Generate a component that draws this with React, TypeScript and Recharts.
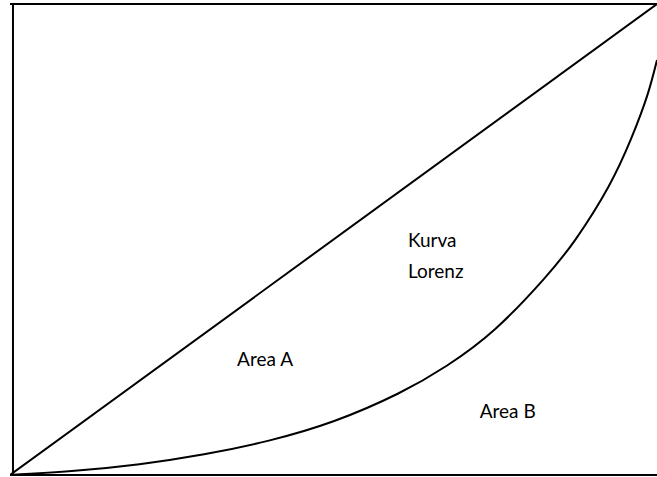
// @ts-nocheck
import { LineChart, Line, XAxis, YAxis, ReferenceLine, ReferenceDot } from 'recharts';

// share of population (x) vs share of income (y), in percent
const equalityX = [0, 100];
const equalityY = [0, 100];

const lorenzX = [0, 10, 20, 30, 40, 50, 60, 67.5, 75, 82.5, 87.5, 92.5, 96, 98.5, 100];
const lorenzY = [0, 0.9, 2.3, 4.4, 7.3, 11.4, 17.3, 23.2, 31.0, 41.6, 50.2, 61.2, 71.4, 80.6, 88.1];

const labelTexts = ['Kurva', 'Lorenz', 'Area A', 'Area B'];
const labelX = [61.5, 61.5, 35.1, 72.6];
const labelY = [48.4, 41.8, 23.1, 12.0];

const equality = equalityX.map((x, i) => ({ x, y: equalityY[i] }));
const lorenz = lorenzX.map((x, i) => ({ x, y: lorenzY[i] }));

const FONT = 'Lato, "Open Sans", sans-serif';

const TextAt = ({ viewBox, value }) => (
  <text x={viewBox.x} y={viewBox.y} fill="#000" fontSize={19} fontFamily={FONT}>
    {value}
  </text>
);

export default function App() {
  return (
    <div style={{ position: 'absolute', left: 0, top: 0, width: 657, height: 477, overflow: 'hidden', background: '#fff' }}>
      <LineChart width={680} height={477} margin={{ top: 4, right: 23, bottom: 2, left: 10 }}>
        <XAxis type="number" dataKey="x" domain={[0, 100]} hide allowDataOverflow />
        <YAxis type="number" domain={[0, 100]} hide allowDataOverflow />

        {/* frame */}
        <ReferenceLine y={100} stroke="#000" strokeWidth={2} ifOverflow="visible" />
        <ReferenceLine y={0} stroke="#000" strokeWidth={2} ifOverflow="visible" />
        <ReferenceLine x={0.46} stroke="#000" strokeWidth={2} ifOverflow="visible" />

        <Line
          data={equality}
          dataKey="y"
          type="linear"
          stroke="#000"
          strokeWidth={2}
          dot={false}
          activeDot={false}
          isAnimationActive={false}
        />
        <Line
          data={lorenz}
          dataKey="y"
          type="natural"
          stroke="#000"
          strokeWidth={2}
          dot={false}
          activeDot={false}
          isAnimationActive={false}
        />

        {labelTexts.map((t, i) => (
          <ReferenceDot
            key={t}
            x={labelX[i]}
            y={labelY[i]}
            r={0}
            fill="none"
            stroke="none"
            label={<TextAt value={t} />}
          />
        ))}
      </LineChart>
    </div>
  );
}
